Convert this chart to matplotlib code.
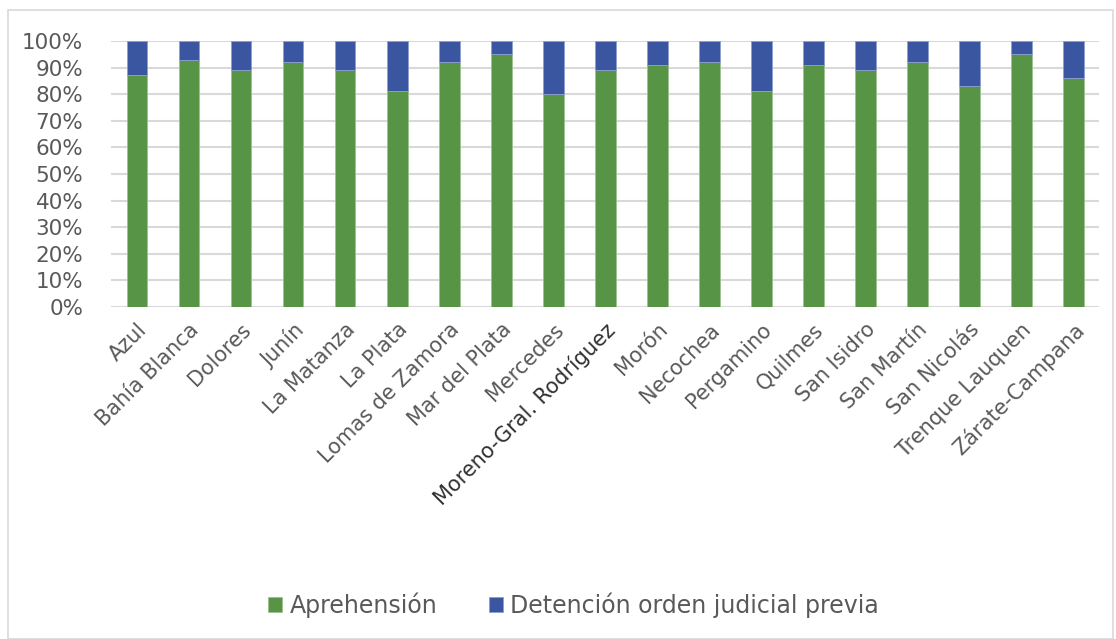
import matplotlib.pyplot as plt
from matplotlib.patches import Rectangle
import matplotlib.ticker as mticker

plt.rcParams['font.family'] = ['DejaVu Sans']

# categorias y porcentajes
departamentos = ['Azul', 'Bahía Blanca', 'Dolores', 'Junín', 'La Matanza', 'La Plata',
                 'Lomas de Zamora', 'Mar del Plata', 'Mercedes', 'Moreno-Gral. Rodríguez',
                 'Morón', 'Necochea', 'Pergamino', 'Quilmes', 'San Isidro', 'San Martín',
                 'San Nicolás', 'Trenque Lauquen', 'Zárate-Campana']
aprehension = [87, 93, 89, 92, 89, 81, 92, 95, 80, 89, 91, 92, 81, 91, 89, 92, 83, 95, 86]
detencion = [100 - v for v in aprehension]

verde = '#589446'
azul = '#3A56A1'
gris = '#595959'

fig = plt.figure(figsize=(11.16, 6.39), dpi=100)
ax = fig.add_axes([0.0995, 0.5196, 0.8855, 0.4164])

x = range(len(departamentos))
ax.bar(x, aprehension, width=0.4, color=verde, edgecolor='#9cc28e', linewidth=0.6,
       label='Aprehensión', zorder=3)
ax.bar(x, detencion, bottom=aprehension, width=0.4, color=azul, edgecolor='#8d9fd0',
       linewidth=0.6, label='Detención orden judicial previa', zorder=3)

ax.set_ylim(0, 100)
ax.set_xlim(-0.5, len(departamentos) - 0.5)
ax.yaxis.set_major_locator(mticker.MultipleLocator(10))
ax.yaxis.set_major_formatter(mticker.FuncFormatter(lambda v, p: f'{int(v)}%'))
ax.grid(axis='y', color='#d9d9d9', linewidth=1.5, zorder=0)
for s in ax.spines.values():
    s.set_visible(False)
ax.tick_params(length=0, labelsize=15, labelcolor=gris)
ax.yaxis.set_tick_params(labelsize=15.5, pad=20)
ax.xaxis.set_tick_params(pad=9)

ax.set_xticks(list(x))
ax.set_xticklabels(departamentos, rotation=45, ha='right', rotation_mode='anchor')
for lab in ax.get_xticklabels():
    if lab.get_text().startswith('Moreno'):
        lab.set_color('#303030')

leg = fig.legend(loc='center', bbox_to_anchor=(0.514, 0.053), ncol=2, frameon=False,
                 fontsize=17, handlelength=0.6, handleheight=0.6, handletextpad=0.3,
                 columnspacing=2.2)
for t in leg.get_texts():
    t.set_color(gris)

fig.patches.append(Rectangle((0.007, 0.0), 0.99, 0.985, transform=fig.transFigure,
                             fill=False, edgecolor='#d9d9d9', linewidth=1.2))

fig.savefig('out.png', dpi=100)
